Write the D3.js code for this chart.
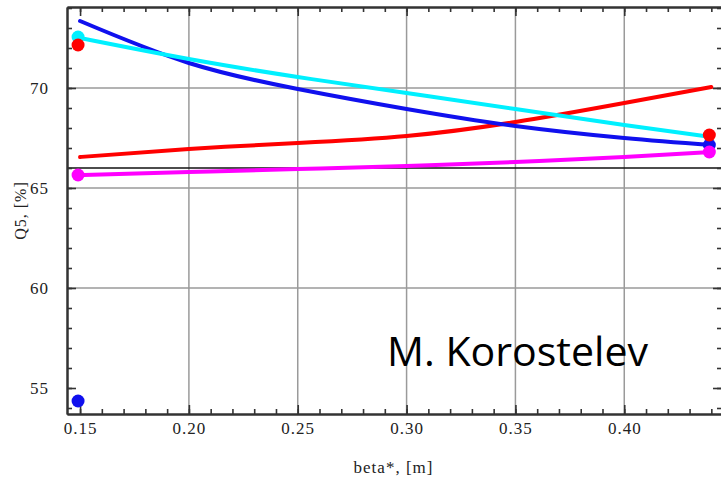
<!DOCTYPE html>
<html>
<head>
<meta charset="utf-8">
<script src="https://cdn.jsdelivr.net/npm/d3@7"></script>
<style>
  html, body { margin: 0; padding: 0; background: #fff; }
  svg { display: block; }
  .tick text { font-family: "Liberation Serif", "DejaVu Serif", serif; font-size: 17px; fill: #222; letter-spacing: 1px; }
</style>
</head>
<body>
<svg id="chart" width="721" height="478"></svg>
<script>
// beta* values at which the curves are sampled
const betaStar = [0.15, 0.20, 0.25, 0.30, 0.35, 0.40, 0.44];

// Q5 [%] for each configuration
const blueQ5    = [73.35, 71.25, 69.95, 68.95, 68.1, 67.5, 67.15];
const cyanQ5    = [72.5, 71.45, 70.55, 69.75, 68.95, 68.15, 67.55];
const redQ5     = [66.55, 66.95, 67.25, 67.6, 68.3, 69.25, 70.05];
const magentaQ5 = [65.65, 65.8, 65.95, 66.1, 66.3, 66.55, 66.8];

// individual reference points: [beta*, Q5]
const bluePoints    = [[0.15, 54.35], [0.44, 67.15]];
const cyanPoints    = [[0.15, 72.55]];
const redPoints     = [[0.15, 72.15], [0.44, 67.65]];
const magentaPoints = [[0.15, 65.65], [0.44, 66.8]];

// horizontal reference level
const referenceLevel = 66;

// axis ticks
const xMajorTicks = [0.15, 0.20, 0.25, 0.30, 0.35, 0.40];
const xGridTicks  = [0.20, 0.25, 0.30, 0.35, 0.40];
const yMajorTicks = [55, 60, 65, 70];
const yGridTicks  = [60, 65, 70];

const svg = d3.select("#chart");
const plotLeft = 67, plotRight = 722, plotTop = 7, plotBottom = 414;

const x = d3.scaleLinear().domain([0.144, 0.4449]).range([plotLeft, plotRight]);
const y = d3.scaleLinear().domain([53.7, 74.05]).range([plotBottom, plotTop]);

const xMinor = d3.range(0.15, 0.4451, 0.01).map(v => +v.toFixed(2));
const yMinor = d3.range(54, 74.01, 1);

// grid
const grid = svg.append("g");
grid.selectAll("line.gx").data(xGridTicks).join("line")
  .attr("x1", d => x(d)).attr("x2", d => x(d))
  .attr("y1", plotTop).attr("y2", plotBottom)
  .attr("stroke", "#9a9a9a").attr("stroke-width", 1.5);
grid.selectAll("line.gy").data(yGridTicks).join("line")
  .attr("x1", plotLeft).attr("x2", plotRight)
  .attr("y1", d => y(d)).attr("y2", d => y(d))
  .attr("stroke", "#9a9a9a").attr("stroke-width", 1.5);

// reference level
svg.append("line")
  .attr("x1", plotLeft).attr("x2", plotRight)
  .attr("y1", y(referenceLevel)).attr("y2", y(referenceLevel))
  .attr("stroke", "#111").attr("stroke-width", 1.6);

// axes (ticks point inward)
function styleAxis(g) {
  g.select(".domain").attr("stroke", "#333").attr("stroke-width", 2);
  g.selectAll(".tick line").attr("stroke", "#333").attr("stroke-width", 1.6);
}
svg.append("g").attr("transform", `translate(0,${plotBottom})`)
  .call(d3.axisBottom(x).tickValues(xMinor).tickSize(-5).tickFormat("").tickSizeOuter(0)).call(styleAxis);
svg.append("g").attr("transform", `translate(0,${plotBottom})`)
  .call(d3.axisBottom(x).tickValues(xMajorTicks).tickSize(-9).tickPadding(20).tickFormat(d3.format(".2f")).tickSizeOuter(0))
  .call(styleAxis)
  .call(g => g.selectAll(".tick text").attr("dy", "0"));
svg.append("g").attr("transform", `translate(0,${plotTop})`)
  .call(d3.axisTop(x).tickValues(xMinor).tickSize(-5).tickFormat("").tickSizeOuter(0)).call(styleAxis);
svg.append("g").attr("transform", `translate(0,${plotTop})`)
  .call(d3.axisTop(x).tickValues(xMajorTicks).tickSize(-9).tickFormat("").tickSizeOuter(0)).call(styleAxis);

svg.append("g").attr("transform", `translate(${plotLeft},0)`)
  .call(d3.axisLeft(y).tickValues(yMinor).tickSize(-5).tickFormat("").tickSizeOuter(0)).call(styleAxis);
svg.append("g").attr("transform", `translate(${plotLeft},0)`)
  .call(d3.axisLeft(y).tickValues(yMajorTicks).tickSize(-9).tickPadding(18).tickFormat(d3.format("d")).tickSizeOuter(0))
  .call(styleAxis);
svg.append("g").attr("transform", `translate(${plotRight},0)`)
  .call(d3.axisRight(y).tickValues(yMinor).tickSize(-5).tickFormat("").tickSizeOuter(0)).call(styleAxis);
svg.append("g").attr("transform", `translate(${plotRight},0)`)
  .call(d3.axisRight(y).tickValues(yMajorTicks).tickSize(-9).tickFormat("").tickSizeOuter(0)).call(styleAxis);

// curves
const line = d3.line().x(d => x(d[0])).y(d => y(d[1])).curve(d3.curveNatural);
const series = [
  { values: redQ5,     color: "#ff0000" },
  { values: magentaQ5, color: "#ff00ff" },
  { values: blueQ5,    color: "#1010ee" },
  { values: cyanQ5,    color: "#00f0ff" }
];
svg.append("g").selectAll("path").data(series).join("path")
  .attr("d", s => line(betaStar.map((b, i) => [b, s.values[i]])))
  .attr("fill", "none").attr("stroke", s => s.color).attr("stroke-width", 4)
  .attr("stroke-linecap", "round");

// reference points
const pointSets = [
  { pts: bluePoints,    color: "#1010ee" },
  { pts: cyanPoints,    color: "#00f0ff" },
  { pts: magentaPoints, color: "#ff00ff" },
  { pts: redPoints,     color: "#ff0000" }
];
pointSets.forEach(s => {
  svg.append("g").selectAll("circle").data(s.pts).join("circle")
    .attr("cx", d => x(d[0]) - 2).attr("cy", d => y(d[1]))
    .attr("r", 6.5).attr("fill", s.color);
});

// axis titles
svg.append("text")
  .attr("transform", `translate(26,${(plotTop + plotBottom) / 2}) rotate(-90)`)
  .attr("text-anchor", "middle")
  .style("font-family", "'Liberation Serif', serif").style("font-size", "16px")
  .style("letter-spacing", "1px").attr("fill", "#222")
  .text("Q5, [%]");
svg.append("text")
  .attr("x", (plotLeft + 720) / 2).attr("y", 473)
  .attr("text-anchor", "middle")
  .style("font-family", "'Liberation Serif', serif").style("font-size", "17px")
  .style("letter-spacing", "1px").attr("fill", "#222")
  .text("beta*, [m]");

// author credit
svg.append("text")
  .attr("x", 387).attr("y", 366)
  .attr("textLength", 261).attr("lengthAdjust", "spacingAndGlyphs")
  .style("font-family", "'Open Sans', sans-serif").style("font-size", "40px")
  .attr("fill", "#000")
  .text("M. Korostelev");
</script>
</body>
</html>
